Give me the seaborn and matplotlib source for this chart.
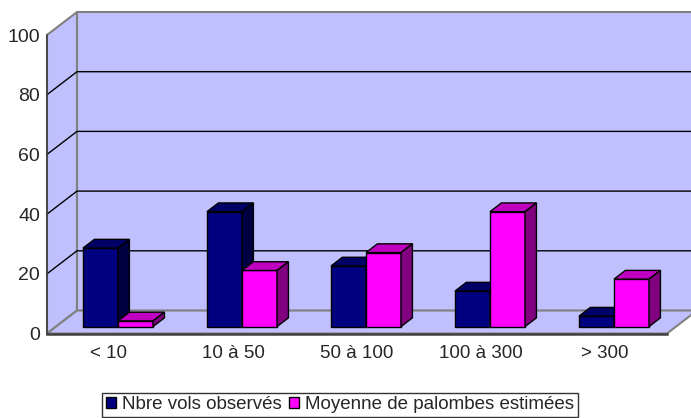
import numpy as np
import pandas as pd
import seaborn as sns
import matplotlib
matplotlib.use('Agg')
import matplotlib.pyplot as plt
from matplotlib.patches import Polygon

sns.set_style('white')
plt.rcParams['font.family'] = ['Liberation Sans', 'DejaVu Sans']

categories = ['< 10', '10 à 50', '50 à 100', '100 à 300', '> 300']
series = ['Nbre vols observés', 'Moyenne de palombes estimées']
vols = [26.3, 38.5, 20.3, 11.9, 3.5]
palombes = [1.9, 18.8, 24.8, 38.5, 15.9]
yticks = [0, 20, 40, 60, 80, 100]

front_col = {series[0]: '#000080', series[1]: '#FF00FF'}
top_col = {series[0]: '#000066', series[1]: '#C000C0'}
side_col = {series[0]: '#000040', series[1]: '#800080'}
wall = '#C0C0FF'
edge_gray = '#808080'

df = pd.DataFrame({
    'cat': categories * 2,
    'val': vols + palombes,
    'serie': [series[0]] * 5 + [series[1]] * 5,
})

fig = plt.figure(figsize=(6.91, 4.18), dpi=100)
ax = fig.add_axes([47/691, (418-333.5)/418, 620/691, 298.5/418])
ax.patch.set_visible(False)

sns.barplot(data=df, x='cat', y='val', hue='serie', order=categories,
            hue_order=series, palette=front_col, width=0.565,
            edgecolor='black', linewidth=1, saturation=1, ax=ax)
ax.set_xlim(-0.5, 4.5)
ax.set_ylim(0, 100)

# depth of the box (data units)
Dx, Dy = 30/124, 23/2.985
f0, f1 = 0.30, 0.68   # depth of the bars inside the box

# walls and floor
x0, x1 = -0.5, 4.5
walls = [
    [(x0, 0), (x0, 100), (x0+Dx, 100+Dy), (x0+Dx, Dy)],
    [(x0+Dx, Dy), (x1+Dx, Dy), (x1+Dx, 100+Dy), (x0+Dx, 100+Dy)],
    [(x0, 0), (x1, 0), (x1+Dx, Dy), (x0+Dx, Dy)],
]
for w in walls:
    ax.add_patch(Polygon(w, closed=True, facecolor=wall, edgecolor=edge_gray,
                         lw=1.5, zorder=0.5, clip_on=False))
for y in yticks[1:-1]:
    ax.plot([x0, x0+Dx, x1+Dx], [y, y+Dy, y+Dy], color='black', lw=1,
            zorder=0.6, clip_on=False)

# 3d bars
for h, cont in enumerate(ax.containers):
    s = series[h]
    for i, bar in enumerate(cont):
        bx, bw, bh = bar.get_x(), bar.get_width(), bar.get_height()
        ax_, ay_ = f0*Dx, f0*Dy
        bx_, by_ = f1*Dx, f1*Dy
        z = 3 + 2*i + h
        bar.set_x(bx + ax_)
        bar.set_y(ay_)
        bar.set_zorder(z)
        bar.set_clip_on(False)
        top = [(bx+ax_, bh+ay_), (bx+bw+ax_, bh+ay_), (bx+bw+bx_, bh+by_), (bx+bx_, bh+by_)]
        side = [(bx+bw+ax_, ay_), (bx+bw+bx_, by_), (bx+bw+bx_, bh+by_), (bx+bw+ax_, bh+ay_)]
        ax.add_patch(Polygon(top, closed=True, facecolor=top_col[s], edgecolor='black',
                             lw=1, zorder=z, clip_on=False))
        ax.add_patch(Polygon(side, closed=True, facecolor=side_col[s], edgecolor='black',
                             lw=1, zorder=z, clip_on=False))

# axes
for sp in ['top', 'right']:
    ax.spines[sp].set_visible(False)
ax.spines['bottom'].set_color('#404040')
ax.spines['bottom'].set_linewidth(1.8)
ax.spines['left'].set_color('#404040')
ax.spines['left'].set_linewidth(1.2)
ax.spines['bottom'].set_zorder(2)
ax.spines['left'].set_zorder(2)

ax.set_yticks(yticks)
ax.set_yticklabels([str(t) for t in yticks], fontsize=14)
ax.tick_params(axis='y', direction='out', length=4, width=1, color='#404040', pad=1)
ax.set_xticks(range(len(categories)))
ax.set_xticklabels(categories, fontsize=13.5)
ax.set_xticks(np.arange(-0.5, 5, 1), minor=True)
ax.tick_params(axis='x', which='major', length=0, pad=8)
ax.tick_params(axis='x', which='minor', direction='out', length=4, width=1, color='#404040')
ax.set_xlabel('')
ax.set_ylabel('')

handles, labels = ax.get_legend_handles_labels()
ax.get_legend().remove()
leg = fig.legend(handles, labels, loc='lower center', bbox_to_anchor=(340/691, 1/418),
                 ncol=2, frameon=True, fancybox=False, edgecolor='black', fontsize=13.5,
                 handlelength=0.55, handleheight=0.55, handletextpad=0.3,
                 columnspacing=0.4, borderpad=0.2, borderaxespad=0)
leg.get_frame().set_linewidth(1)
for hd in leg.legend_handles:
    hd.set_edgecolor('black')
    hd.set_linewidth(1)

plt.savefig('out.png', dpi=100)
plt.close()
